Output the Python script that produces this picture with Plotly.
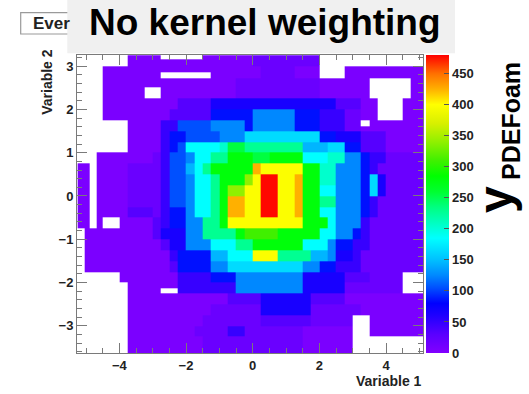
import plotly.graph_objects as go

# ---------------- data ----------------
# foam cell bin edges along Variable 1
X_EDGES = [-5.25, -5.03, -4.88, -4.68,
           -4.5, -4.25, -4.0, -3.75, -3.5, -3.25, -3.0, -2.75, -2.5, -2.25,
           -2.0, -1.75, -1.5, -1.25, -1.0, -0.75, -0.5, -0.25, 0.0, 0.25,
           0.5, 0.75, 1.0, 1.25, 1.5, 1.75, 2.0, 2.25, 2.5, 2.75,
           3.0, 3.25, 3.5, 3.75, 4.0, 4.25, 4.5, 4.75, 5.0, 5.25]
# foam cell bin edges along Variable 2 (top to bottom)
Y_EDGES_TOP_DOWN = [3.25, 3.15, 3.0, 2.85, 2.72, 2.5, 2.25, 2.0, 1.75, 1.6,
                    1.5, 1.25, 1.0, 0.75, 0.5, 0.25, 0.0, -0.25, -0.5, -0.75,
                    -1.0, -1.25, -1.5, -1.75, -2.0, -2.12, -2.25, -2.5, -2.75,
                    -3.0, -3.25, -3.5, -3.75]
# cell value codes -> y_PDEFoam value ('.' = empty cell)
LEVELS = {"0": 5, "1": 18, "2": 32, "3": 48, "4": 65, "5": 85, "6": 105,
          "7": 125, "8": 145, "9": 165, "A": 185, "B": 205, "C": 228,
          "D": 255, "E": 280, "F": 310, "G": 340, "H": 370, "I": 398,
          "J": 425, "K": 450, "L": 478}
# one string per cell row, top row first, one character per cell column
CELL_ROWS = [
    "......." + "0000" + "....." + "000000" + "11111111" + ".............",
    "......." + "0000" + "00000" + "000000" + "11111111" + ".............",
    "...." + "0000000000" + "000000000" + "1111" + "000" + "..." + "0000000000",
    "...." + "0000000" + "......" + "000000" + "1111" + "000" + "..." + "0000000000",
    "...." + "0000000000000000" + "1111111111" + "000000" + "....." + "00",
    "...." + "00000" + ".." + "000000000" + "1111111111" + "000000" + "....." + "00",
    "...." + "000000000" + "2222" + "444444444444444" + "222" + "00" + "..." + "000",
    "...." + "00000000" + "22222" + "55555" + "77777" + "555" + "333" + "11" + "00" + "..." + "000",
    "...." + "..." + "0000" + "33" + "6666" + "7777" + "5" + "77777" + "555" + "333" + "11" + "." + "0000000",
    "...." + "..." + "0000" + "33" + "6666" + "7777" + "5" + "77777" + "555" + "333" + "11" + "0" + "0000000",
    "...." + "..." + "0000" + "3" + "55" + "6666" + "777" + "999999999" + "55" + "444" + "222" + "00000",
    "...." + "..." + "0000" + "3" + "5" + "6" + "AAAA" + "B" + "DD" + "CCCCCCC" + "888" + "99" + "55" + "222" + "00000",
    "...0" + "000000" + "1" + "3" + "66" + "7" + "AA" + "CC" + "EEE" + "DD" + "EEEE" + "AAA" + "BB" + "77" + "5" + "33" + "11111",
    "00.0" + "000" + "1111" + "3" + "66" + "8" + "A" + "C" + "EEEEE" + "J" + "IIII" + "I" + "EE" + "BB" + "777" + "5" + "3" + "111111",
    "00.0" + "000" + "1111" + "3" + "66" + "7" + "AA" + "C" + "EEE" + "G" + "I" + "LL" + "I" + "I" + "J" + "EE" + "BB" + "777" + "5" + "9" + "4" + "11111",
    "00.0" + "000" + "1111" + "3" + "66" + "7" + "AA" + "C" + "E" + "GG" + "II" + "LL" + "I" + "I" + "J" + "EE" + "AA" + "777" + "5" + "9" + "4" + "11111",
    "00.0" + "000" + "1111" + "3" + "66" + "7" + "AA" + "C" + "E" + "JJ" + "II" + "LL" + "I" + "I" + "J" + "EE" + "CC" + "777" + "5" + "3" + "111111",
    "00.0" + "000" + "222" + "1" + "3" + "55" + "7" + "AA" + "C" + "E" + "JJ" + "II" + "LL" + "I" + "I" + "J" + "EE" + "AA" + "777" + "5" + "3" + "111111",
    "00.0" + ".." + "0000" + "2" + "3" + "55" + "77" + "CC" + "E" + "IIIIIIII" + "I" + "EEE" + "A" + "777" + "3" + "1111111",
    ".000" + "000000" + "2" + "444" + "77" + "CCCC" + "E" + "FFFF" + "EEEEE" + "AA" + "77" + "5" + "3" + "1111111",
    ".000" + "0000000" + "2" + "44" + "777" + "AAA" + "CC" + "EEEEEE" + "AAA" + "7" + "55" + "33" + "1111111",
    ".000" + "00000000" + "3" + "5555" + "88" + "AAA" + "III" + "CCCC" + "88" + "7" + "44" + "3" + "11111111",
    ".000" + "00000000" + "2" + "5555" + "77" + "999999999" + "77" + "55" + "333" + "11111111",
    "...." + ".." + "0000000" + "3333" + "555" + "77777777" + "44444" + "222" + "1111" + "...",
    "...." + "..." + "000000" + "3333333" + "77777777" + "44444" + "1111111" + "...",
    "...." + "..." + "0000" + ".." + "3333333" + "77777777" + "44444" + "1111111" + "...",
    "...." + "..." + "000000000000" + "2222" + "444444" + "2222" + "0000000000",
    "...." + "..." + "0000000000" + "111111" + "444444" + "111111" + "00000000",
    "...." + "..." + "000000000" + "1111111" + "222222" + "11111" + ".." + "0000000",
    "...." + "..." + "00000000" + "1111" + "33" + "1111111" + "000000" + ".." + "0000000",
    "...." + "..." + "000000000" + "111111111111" + "000000" + ".........",
    "...." + "..." + "000000000" + "111111111111" + "000000" + ".........",
]
COLORBAR_TICKS = [0, 50, 100, 150, 200, 250, 300, 350, 400, 450]
X_TICKS = [-4, -2, 0, 2, 4]
Y_TICKS = [-3, -2, -1, 0, 1, 2, 3]
Z_MAX = 480

# ROOT-like rainbow palette
PALETTE = [(0, "#8200ff"), (30, "#5a00ff"), (60, "#2000ff"), (80, "#0000ff"),
           (105, "#0050ff"), (125, "#0088ff"), (150, "#00c0ff"),
           (185, "#00ffff"), (210, "#00ffc0"), (235, "#00ff80"),
           (260, "#00ff30"), (285, "#00ff00"), (310, "#40f000"),
           (340, "#90f000"), (370, "#d8f000"), (400, "#ffff00"),
           (425, "#ffb000"), (450, "#ff7000"), (480, "#ff0000")]

# ---------------- build grid ----------------
ncol = len(X_EDGES) - 1
for i, r in enumerate(CELL_ROWS):
    if len(r) != ncol:
        raise ValueError(f"row {i} has {len(r)} cells, expected {ncol}")
if len(CELL_ROWS) != len(Y_EDGES_TOP_DOWN) - 1:
    raise ValueError("row count mismatch")

z_top_down = [[(LEVELS[ch] if ch != "." else None) for ch in r] for r in CELL_ROWS]
z_up = z_top_down[::-1]
y_up = Y_EDGES_TOP_DOWN[::-1]

W, H = 529, 394
ML, MR, MT, MB = 77, 106, 55, 41
PW, PH = W - ML - MR, H - MT - MB


def px_x(px):
    return (px - ML) / PW


def px_y(py):
    return (H - MB - py) / PH


FONT = "Liberation Sans, Arial, Helvetica, sans-serif"
TXT = "#222222"
AX = "#7a7a7a"

colorscale = [[v / Z_MAX, c] for v, c in PALETTE]

fig = go.Figure()
fig.add_trace(go.Heatmap(
    x=X_EDGES, y=y_up, z=z_up, zmin=0, zmax=Z_MAX,
    colorscale=colorscale, hoverinfo="skip",
    colorbar=dict(
        x=px_x(426), xanchor="left", y=0.5, yanchor="middle",
        len=1, lenmode="fraction", thickness=23, thicknessmode="pixels",
        outlinewidth=0, xpad=0, ypad=0,
        tickvals=COLORBAR_TICKS, ticks="inside", ticklen=5, tickcolor="#555",
        tickfont=dict(family=FONT, size=13, color=TXT, weight="bold"),
    ),
))

axis_common = dict(
    showgrid=False, zeroline=False, showline=True, linecolor=AX, linewidth=1,
    mirror="ticks", ticks="inside", ticklen=10, tickcolor=AX, tickwidth=1,
    tickfont=dict(family=FONT, size=13, color=TXT, weight="bold"),
)
fig.update_xaxes(range=[-5.27, 5.11], tickvals=X_TICKS, **axis_common,
                 minor=dict(dtick=0.5, tick0=0, ticklen=5, ticks="inside", tickcolor=AX))
fig.update_yaxes(range=[-3.626, 3.256], tickvals=Y_TICKS, **axis_common,
                 minor=dict(dtick=0.2, tick0=0, ticklen=5, ticks="inside", tickcolor=AX))

shapes = [
    dict(type="rect", xref="paper", yref="paper", layer="above",
         x0=px_x(20.7), x1=px_x(80), y0=px_y(34), y1=px_y(12.7),
         line=dict(color="#9a9a9a", width=1.2), fillcolor="#ffffff"),
    dict(type="rect", xref="paper", yref="paper", layer="above",
         x0=px_x(67.3), x1=px_x(455), y0=px_y(53.3), y1=px_y(0),
         line=dict(width=0), fillcolor="#f0f0f0"),
]

annotations = [
    dict(text="Ever", x=px_x(30.5), y=px_y(23.3), xanchor="left", yanchor="middle",
         font=dict(family=FONT, size=17, color=TXT, weight="bold")),
    dict(text="No kernel weighting", x=px_x(264.7), y=px_y(22.5),
         xanchor="center", yanchor="middle",
         font=dict(family=FONT, size=37, color="#000000", weight="bold")),
    dict(text="Variable 1", x=px_x(424), y=px_y(381.5), xanchor="right", yanchor="middle",
         font=dict(family=FONT, size=14, color=TXT, weight="bold")),
    dict(text="Variable 2", x=px_x(46.8), y=px_y(82), xanchor="center", yanchor="middle",
         textangle=-90, font=dict(family=FONT, size=14, color=TXT, weight="bold")),
    dict(text="y", x=px_x(495), y=px_y(199), xanchor="center", yanchor="middle",
         textangle=-90, font=dict(family=FONT, size=48, color="#000000", weight="bold")),
    dict(text="PDEFoam", x=px_x(511), y=px_y(121), xanchor="center", yanchor="middle",
         textangle=-90, font=dict(family=FONT, size=25, color="#000000", weight="bold")),
]
for a in annotations:
    a.update(xref="paper", yref="paper", showarrow=False)

fig.update_layout(
    width=W, height=H, margin=dict(l=ML, r=MR, t=MT, b=MB, pad=0),
    paper_bgcolor="#ffffff", plot_bgcolor="#ffffff",
    shapes=shapes, annotations=annotations, hovermode=False, showlegend=False,
)

fig.write_html(
    "out.html",
    config={"displayModeBar": False},
    post_script="document.body.style.margin='0';document.body.style.padding='0';"
                "document.documentElement.style.overflow='hidden';",
)
